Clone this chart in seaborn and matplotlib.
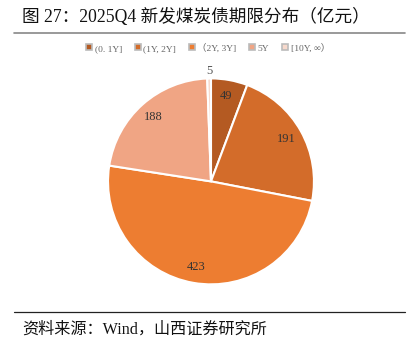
import numpy as np
import matplotlib
matplotlib.use("Agg")
import matplotlib.pyplot as plt
import seaborn as sns
from matplotlib.lines import Line2D

sns.set_theme(style="white")
plt.rcParams['font.family'] = ['Liberation Serif', 'Noto Sans CJK SC']

# Data
categories = ['(0.1Y]', '(1Y,2Y]', '(2Y,3Y]', '5Y', '[10Y,∞)']
legend_labels = ['(0. 1Y]', '(1Y, 2Y]', '（2Y, 3Y]', '5Y', '[10Y, ∞）']
values = [49, 191, 423, 188, 5]
colors = ['#B45A22', '#D36C2A', '#ED7D31', '#F0A584', '#F7D9CC']

fig = plt.figure(figsize=(4.15, 3.54), dpi=100)
ax = fig.add_axes([0.2578, 0.1938, 0.5012, 0.5876])

wedges, _ = ax.pie(values, colors=colors, startangle=90, counterclock=False,
                   wedgeprops=dict(edgecolor='white', linewidth=1.5))
ax.set_aspect('equal')
ax.set_xlim(-1.01, 1.01)
ax.set_ylim(-1.01, 1.01)

# value labels
for w, v in zip(wedges, values):
    ang = np.deg2rad((w.theta1 + w.theta2) / 2)
    r = 0.84 if v > 20 else 1.07
    col = '#333333' if v > 20 else '#555555'
    ax.text(r * np.cos(ang), r * np.sin(ang), str(v), ha='center', va='center',
            fontsize=9, color=col)

# legend
handles = [Line2D([0], [0], marker='s', linestyle='none', markersize=4.5,
                  markerfacecolor=c, markeredgecolor='#bbbbbb', markeredgewidth=1.2)
           for c in colors]
fig.legend(handles, legend_labels, loc='center', bbox_to_anchor=(0.5, 0.864),
           ncol=5, frameon=False, fontsize=6.8, handlelength=0.8, handletextpad=0.2,
           columnspacing=1.25, labelcolor='#666666')

# title & footer
fig.text(0.053, 0.952, '图 27：2025Q4 新发煤炭债期限分布（亿元）', fontsize=12.7,
         ha='left', va='center', color='#111111')
fig.add_artist(Line2D([0.034, 0.976], [0.907, 0.907], color='#888888', linewidth=1.2,
                      transform=fig.transFigure))
fig.add_artist(Line2D([0.034, 0.976], [0.119, 0.119], color='#222222', linewidth=0.9,
                      transform=fig.transFigure))
fig.text(0.053, 0.068, '资料来源：Wind，山西证券研究所', fontsize=11.6,
         ha='left', va='center', color='#111111')

fig.savefig('out.png', dpi=100)
